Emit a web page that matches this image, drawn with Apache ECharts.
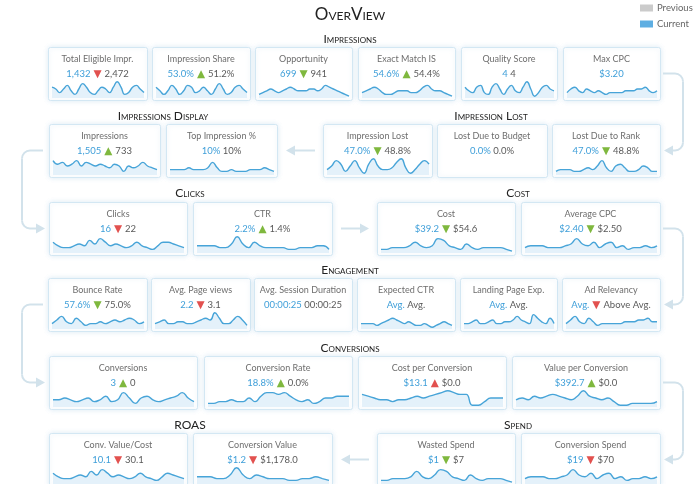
<!DOCTYPE html>
<html>
<head>
<meta charset="utf-8">
<title>OverView</title>
<script src="https://cdn.jsdelivr.net/npm/echarts@6.0.0/dist/echarts.min.js"></script>
<style>
  html, body { margin: 0; padding: 0; background: #fff; }
  #main { width: 700px; height: 484px; }
</style>
</head>
<body>
<div id="main"></div>
<script>
// ---- data ----
var chartTitle = 'OverView';
var legendNames = ['Previous', 'Current'];
var sectionNames = ['Impressions', 'Impressions Display', 'Impression Lost', 'Clicks', 'Cost',
    'Engagement', 'Conversions', 'ROAS', 'Spend'];

var cardTitles = [
    'Total Eligible Impr.', 'Impression Share', 'Opportunity', 'Exact Match IS', 'Quality Score', 'Max CPC',
    'Impressions', 'Top Impression %', 'Impression Lost', 'Lost Due to Budget', 'Lost Due to Rank',
    'Clicks', 'CTR', 'Cost', 'Average CPC',
    'Bounce Rate', 'Avg. Page views', 'Avg. Session Duration', 'Expected CTR', 'Landing Page Exp.', 'Ad Relevancy',
    'Conversions', 'Conversion Rate', 'Cost per Conversion', 'Value per Conversion',
    'Conv. Value/Cost', 'Conversion Value', 'Wasted Spend', 'Conversion Spend'
];
var currentValues = [
    '1,432', '53.0%', '699', '54.6%', '4', '$3.20',
    '1,505', '10%', '47.0%', '0.0%', '47.0%',
    '16', '2.2%', '$39.2', '$2.40',
    '57.6%', '2.2', '00:00:25', 'Avg.', 'Avg.', 'Avg.',
    '3', '18.8%', '$13.1', '$392.7',
    '10.1', '$1.2', '$1', '$19'
];
var previousValues = [
    '2,472', '51.2%', '941', '54.4%', '4', '',
    '733', '10%', '48.8%', '0.0%', '48.8%',
    '22', '1.4%', '$54.6', '$2.50',
    '75.0%', '3.1', '00:00:25', 'Avg.', 'Avg.', 'Above Avg.',
    '0', '0.0%', '$0.0', '$0.0',
    '30.1', '$1,178.0', '$7', '$70'
];
// 'up' / 'down' / '' (no marker)
var changeDirections = [
    'down', 'up', 'down', 'up', '', '',
    'up', '', 'down', '', 'down',
    'down', 'up', 'down', 'down',
    'down', 'down', '', '', '', 'down',
    'up', 'up', 'up', 'up',
    'down', 'down', 'down', 'down'
];
// true = favourable (green), false = unfavourable (red)
var changeGood = [
    false, true, true, true, true, true,
    true, true, true, true, true,
    false, true, true, true,
    true, false, true, true, true, false,
    true, true, false, true,
    false, false, true, false
];
var trendValues = [
    [6, 5, 3, 5, 7, 4, 2, 5, 8, 6, 3, 2, 4, 6, 5, 3, 6, 9, 6, 2, 3, 6, 7, 5, 3],
    [6, 4, 2, 4, 7, 5, 2, 4, 7, 6, 3, 4, 6, 4, 2, 5, 8, 5, 2, 3, 6, 7, 5, 3],
    [2, 3, 4, 5, 4, 3, 4, 5, 6, 5, 4, 4, 4, 5, 5, 4, 5, 7, 6, 5, 4, 3, 2, 1],
    [3, 4, 5, 6, 5, 3, 2, 2, 3, 4, 4, 4, 3, 3, 4, 6, 7, 5, 4, 4, 3, 2, 1],
    [6, 4, 3, 6, 7, 3, 2, 6, 8, 5, 2, 5, 7, 4, 3, 6, 9, 5, 1, 3, 6, 7, 5, 4],
    [3, 5, 6, 4, 3, 5, 4, 3, 4, 3, 2, 3, 3, 3, 3, 4, 4, 4, 5, 5, 6, 4, 3, 4],
    [8, 6, 7, 5, 6, 8, 5, 7, 6, 5, 6, 5, 4, 6, 5, 2, 5, 4, 5, 7, 5, 4, 3],
    [3, 3, 3, 3, 4, 3, 3, 3, 4, 7, 4, 2, 2, 3, 2, 2, 2, 3, 3, 3, 4, 3, 2],
    [3, 5, 8, 6, 2, 5, 8, 4, 1, 6, 9, 5, 3, 3, 4, 7, 9, 4, 1, 3, 6, 8, 6],
    null,
    [2, 3, 3, 3, 2, 2, 3, 4, 3, 5, 8, 4, 2, 5, 6, 4, 2, 2, 3, 5, 4, 2, 2],
    [6, 4, 3, 3, 4, 5, 4, 7, 5, 8, 6, 4, 5, 4, 3, 4, 6, 4, 3, 2, 4, 6, 6, 5, 4, 3],
    [4, 4, 4, 4, 3, 3, 5, 9, 5, 3, 6, 4, 3, 3, 3, 3, 2, 2, 3, 3, 3, 4, 4, 2],
    [2, 2, 3, 3, 3, 4, 6, 4, 3, 4, 8, 7, 4, 3, 2, 5, 3, 2, 3, 3, 3, 3, 2, 1],
    [3, 4, 4, 4, 3, 3, 3, 4, 5, 8, 5, 4, 6, 3, 5, 6, 3, 4, 2, 3, 3, 4, 3, 4],
    [3, 5, 7, 4, 3, 6, 4, 2, 3, 3, 4, 3, 4, 5, 4, 5, 6, 5, 3, 4],
    [3, 4, 5, 3, 3, 4, 4, 3, 3, 4, 5, 6, 5, 9, 6, 3, 3, 5, 7, 5, 2],
    null,
    [3, 3, 3, 3, 2, 3, 4, 5, 6, 5, 4, 3, 4, 3, 2, 2, 3, 2, 1, 2, 3, 4, 3, 2],
    [3, 3, 4, 5, 3, 3, 4, 5, 3, 3, 4, 4, 5, 7, 5, 4, 3, 8, 6, 4, 3, 6, 3],
    [3, 5, 7, 4, 3, 6, 4, 2, 3, 3, 3, 3, 3, 4, 4, 4, 5, 5, 6, 4, 4],
    [4, 4, 5, 4, 3, 4, 5, 3, 4, 6, 3, 4, 8, 5, 2, 5, 6, 4, 3, 4, 5, 6, 8, 5, 3],
    [2, 2, 3, 3, 4, 3, 3, 5, 3, 6, 8, 8, 7, 8, 6, 4, 3, 4, 2, 3, 5, 5, 6, 6, 6],
    [7, 6, 5, 4, 4, 3, 4, 4, 5, 6, 5, 6, 7, 8, 9, 8, 7, 7, 1, 1, 3, 5, 5, 5],
    [4, 5, 4, 6, 5, 6, 7, 6, 5, 4, 6, 9, 6, 5, 4, 5, 3, 1, 1, 2, 2, 2, 2, 3],
    [6, 4, 3, 3, 4, 5, 4, 7, 5, 8, 6, 4, 5, 4, 3, 4, 6, 4, 3, 2, 4, 6, 5, 4, 3],
    [4, 4, 4, 3, 3, 5, 9, 5, 3, 5, 4, 3, 3, 3, 2, 2, 3, 3, 4, 3, 2],
    [2, 2, 3, 3, 3, 4, 7, 4, 3, 5, 8, 7, 4, 3, 2, 5, 3, 2, 3, 3, 3, 2, 1],
    [3, 4, 4, 4, 3, 3, 4, 5, 8, 5, 4, 6, 3, 5, 6, 3, 4, 2, 3, 3, 4, 3, 4]
];

// ---- layout ----
var rowTops = [47, 124, 202, 278, 356, 433];
var cardHeight = 53;
var rowCards = [
    [[48, 147], [152, 250], [255, 352], [358, 455], [461, 557], [563, 660]],
    [[49, 160], [166, 277], [323, 432], [437, 547], [552, 660]],
    [[49, 187], [193, 332], [377, 515], [521, 660]],
    [[48, 147], [151, 250], [254, 352], [357, 455], [460, 557], [562, 660]],
    [[49, 197], [204, 352], [358, 506], [512, 660]],
    [[49, 187], [193, 332], [377, 515], [521, 660]]
];
var sectionPos = [[350, 39], [163, 116], [491, 116], [190, 193], [518, 193],
    [350, 270], [350, 348], [190, 425], [518, 425]];

var FONT = 'Lato, "Open Sans", sans-serif';
var BLUE = '#3f9fd9';
var LINK = '#d2e2eb';

var graphics = [];
var grids = [], xAxes = [], yAxes = [], series = [];

// title + legend
graphics.push({
    type: 'text', x: 350, y: 15,
    style: { text: chartTitle, font: 'small-caps 17px ' + FONT, fill: '#222', align: 'center', verticalAlign: 'middle' }
});
var legendColors = ['#cbcbcb', '#5eaee2'];
legendNames.forEach(function (name, i) {
    var ly = 8 + i * 16;
    graphics.push({ type: 'rect', shape: { x: 640, y: ly - 3.5, width: 13, height: 7 }, style: { fill: legendColors[i] } });
    graphics.push({
        type: 'text', x: 657, y: ly,
        style: { text: name, font: '9.5px ' + FONT, fill: '#666', verticalAlign: 'middle' }
    });
});

sectionNames.forEach(function (s, i) {
    graphics.push({
        type: 'text', x: sectionPos[i][0], y: sectionPos[i][1],
        style: { text: s, font: 'small-caps 12px ' + FONT, fill: '#222', align: 'center', verticalAlign: 'middle' }
    });
});

// cards
var k = 0;
rowCards.forEach(function (row, r) {
    var top = rowTops[r];
    row.forEach(function (span) {
        var x0 = span[0], x1 = span[1], cx = (x0 + x1) / 2;
        graphics.push({
            type: 'rect',
            shape: { x: x0 + 0.5, y: top + 0.5, width: x1 - x0, height: cardHeight, r: 2 },
            style: { fill: '#fff', stroke: '#d3e7f3', lineWidth: 1, shadowBlur: 5, shadowColor: 'rgba(110,170,215,0.22)' }
        });
        graphics.push({
            type: 'text', x: cx, y: top + 12,
            style: { text: cardTitles[k], font: '9px ' + FONT, fill: '#6e6e6e', align: 'center', verticalAlign: 'middle' }
        });
        var txt = '{c|' + currentValues[k] + '}';
        if (changeDirections[k]) {
            txt += '{t|' + (changeDirections[k] === 'up' ? '\u25B2' : '\u25BC') + '}';
        } else if (previousValues[k]) {
            txt += '{s| }';
        }
        if (previousValues[k]) txt += '{p|' + previousValues[k] + '}';
        graphics.push({
            type: 'text', x: cx, y: top + 27,
            style: {
                text: txt, align: 'center', verticalAlign: 'middle',
                rich: {
                    c: { fill: BLUE, fontSize: 9.5, fontFamily: FONT },
                    p: { fill: '#5a5a5a', fontSize: 9.5, fontFamily: FONT },
                    s: { fontSize: 9.5, fontFamily: FONT },
                    t: {
                        fill: changeGood[k] ? '#7fb83e' : '#e2514f', fontSize: 10.5,
                        fontFamily: '"DejaVu Sans", sans-serif', padding: [0, 3, 0, 3]
                    }
                }
            }
        });
        if (trendValues[k]) {
            var g = grids.length;
            grids.push({ left: x0 + 4, width: x1 - x0 - 7, top: top + 33, height: 18 });
            xAxes.push({
                gridIndex: g, type: 'category', show: false, boundaryGap: false,
                data: trendValues[k].map(function (v, i) { return i; })
            });
            yAxes.push({ gridIndex: g, type: 'value', show: false, min: 0, max: 10 });
            series.push({
                type: 'line', xAxisIndex: g, yAxisIndex: g, data: trendValues[k],
                smooth: 0.5, symbol: 'none', silent: true,
                lineStyle: { color: '#47a4d8', width: 1.4 },
                areaStyle: { color: '#e4f1fa', origin: 'start', opacity: 1 }
            });
        }
        k++;
    });
});

// connectors
function seg(x1, y1, x2, y2) {
    return { type: 'line', shape: { x1: x1, y1: y1, x2: x2, y2: y2 }, style: { stroke: LINK, lineWidth: 2 } };
}
function arc(cx, cy, a0, a1, cw) {
    return { type: 'arc', shape: { cx: cx, cy: cy, r: 8, startAngle: a0, endAngle: a1, clockwise: cw },
        style: { stroke: LINK, lineWidth: 2, fill: null } };
}
function head(tx, y, dir) {
    return { type: 'polygon', shape: { points: [[tx, y], [tx - dir * 9, y - 5], [tx - dir * 9, y + 5]] },
        style: { fill: LINK } };
}
function rowMid(r) { return rowTops[r] + cardHeight / 2; }
function rightLink(r) {
    var a = rowMid(r), b = rowMid(r + 1);
    graphics.push(seg(663, a, 675, a), arc(675, a + 8, -Math.PI / 2, 0, true), seg(683, a + 8, 683, b - 8),
        arc(675, b - 8, 0, Math.PI / 2, true), seg(675, b, 672, b), head(664, b, -1));
}
function leftLink(r) {
    var a = rowMid(r), b = rowMid(r + 1);
    graphics.push(seg(43, a, 30, a), arc(30, a + 8, -Math.PI / 2, -Math.PI, false), seg(22, a + 8, 22, b - 8),
        arc(30, b - 8, Math.PI, Math.PI / 2, false), seg(30, b, 36, b), head(45, b, 1));
}
rightLink(0); leftLink(1); rightLink(2); leftLink(3); rightLink(4);
function hLink(xa, xb, y) {
    var dir = xb > xa ? 1 : -1;
    graphics.push(seg(xa, y, xb - dir * 8, y), head(xb, y, dir));
}
hLink(315, 286, rowMid(1));
hLink(341, 369, rowMid(2));
hLink(369, 341, rowMid(5));

var chart = echarts.init(document.getElementById('main'), null, { renderer: 'canvas' });
chart.setOption({
    backgroundColor: '#fff',
    animation: false,
    grid: grids,
    xAxis: xAxes,
    yAxis: yAxes,
    series: series,
    graphic: { elements: graphics }
});
</script>
</body>
</html>
